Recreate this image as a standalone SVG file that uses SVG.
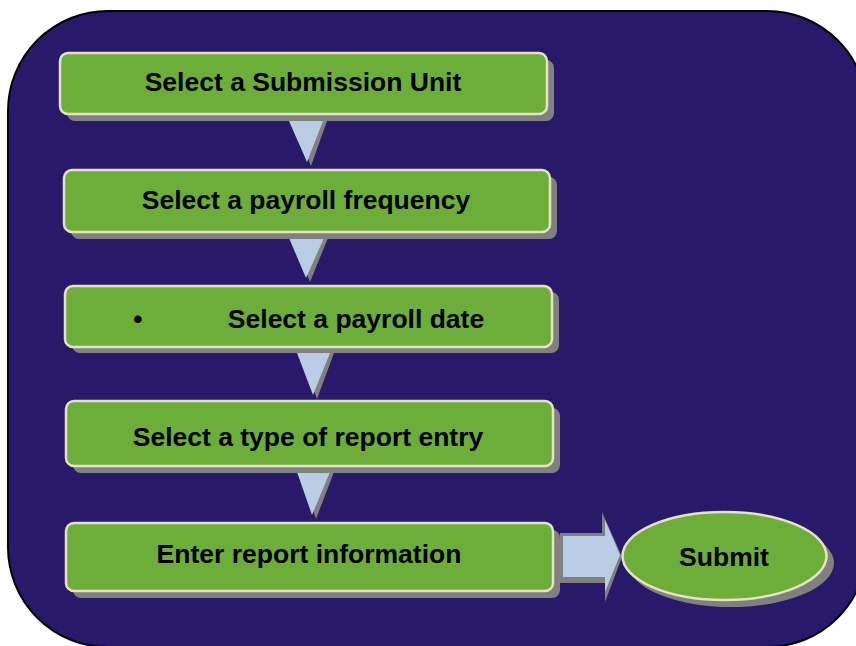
<svg xmlns="http://www.w3.org/2000/svg" width="856" height="646" viewBox="0 0 856 646">
<style>
.box{fill:#6DAE3B;stroke:#E6E2C4;stroke-width:2.5}
.sh{fill:#808080}
.tri{fill:#B9CDE5}
.t{font-family:"Liberation Sans",Arial,sans-serif;font-weight:bold;font-size:26.5px;fill:#000;text-anchor:middle}
</style>
<rect x="8" y="11" width="859" height="636" rx="100" ry="100" fill="#28196A" stroke="#000" stroke-width="2"/>
<g id="connectors">
<polygon class="sh" points="293,121 327,121 311,166"/>
<polygon class="tri" points="289,121 323,121 307,162"/>
<polygon class="sh" points="293,238 328,238 310,282"/>
<polygon class="tri" points="289,238 324,238 306,278"/>
<polygon class="sh" points="301,353 334,353 317,399"/>
<polygon class="tri" points="297,353 330,353 313,395"/>
<polygon class="sh" points="301,472 334,472 316,519"/>
<polygon class="tri" points="297,472 330,472 312,515"/>
<polygon class="sh" points="560,533 602,533 602,512 622,557 605,602 605,583 560,583"/>
<polygon class="tri" points="563,536 605,536 605,520 620,555 605,592 605,577 563,577"/>
</g>
<g id="n1">
<rect class="sh" x="67" y="60" width="487" height="61" rx="8"/>
<rect class="box" x="60" y="53" width="487" height="61" rx="8"/>
<text class="t" x="303" y="91">Select a Submission Unit</text>
</g>
<g id="n2">
<rect class="sh" x="71" y="177" width="486" height="62" rx="8"/>
<rect class="box" x="64" y="170" width="486" height="62" rx="8"/>
<text class="t" x="306" y="209">Select a payroll frequency</text>
</g>
<g id="n3">
<rect class="sh" x="72" y="292" width="487" height="61" rx="8"/>
<rect class="box" x="65" y="286" width="487" height="61" rx="8"/>
<text class="t" x="138" y="328">•</text>
<text class="t" x="356" y="328">Select a payroll date</text>
</g>
<g id="n4">
<rect class="sh" x="73" y="408" width="487" height="65" rx="8"/>
<rect class="box" x="66" y="401" width="487" height="65" rx="8"/>
<text class="t" x="308" y="446">Select a type of report entry</text>
</g>
<g id="n5">
<rect class="sh" x="73" y="530" width="487" height="68" rx="8"/>
<rect class="box" x="66" y="523" width="487" height="68" rx="8"/>
<text class="t" x="309" y="563">Enter report information</text>
</g>
<g id="n6">
<ellipse class="sh" cx="731" cy="563" rx="103" ry="44"/>
<ellipse class="box" cx="724.5" cy="556" rx="102" ry="44"/>
<text class="t" x="724" y="566">Submit</text>
</g>
</svg>
